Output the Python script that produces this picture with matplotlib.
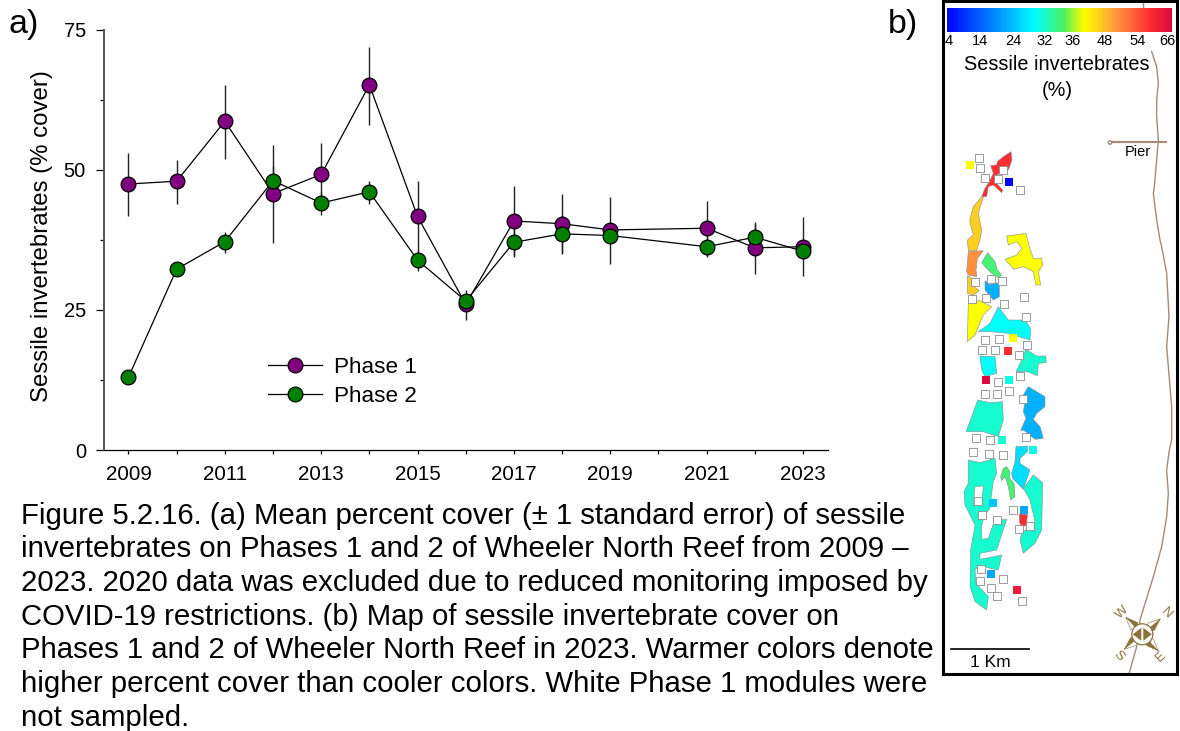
import numpy as np
import matplotlib
matplotlib.use('Agg')
import matplotlib.pyplot as plt
from matplotlib.colors import LinearSegmentedColormap
from matplotlib.patches import Polygon, Circle
from matplotlib.ticker import MultipleLocator, FixedLocator, FixedFormatter

plt.rcParams['font.family'] = ['Liberation Sans', 'DejaVu Sans']

# panel a
years = [2009, 2010, 2011, 2012, 2013, 2014, 2015, 2016, 2017, 2018, 2019, 2021, 2022, 2023]
phase1 = [47.5, 48.0, 58.7, 45.8, 49.2, 65.2, 41.7, 26.0, 40.9, 40.4, 39.3, 39.6, 36.1, 36.3]
phase1_low = [41.7, 44.0, 52.0, 37.0, 43.4, 58.0, 35.4, 23.3, 34.7, 35.1, 33.2, 34.7, 31.5, 31.0]
phase1_high = [53.1, 51.7, 65.2, 54.4, 54.9, 72.0, 48.0, 28.5, 47.1, 45.7, 45.2, 44.5, 40.7, 41.6]
phase2 = [13.0, 32.3, 37.2, 48.1, 44.1, 46.1, 33.9, 26.6, 37.1, 38.6, 38.3, 36.3, 38.0, 35.5]
phase2_low = [12.5, 31.5, 35.1, 45.6, 42.0, 44.0, 32.0, 25.5, 34.5, 35.0, 37.0, 34.5, 35.6, 34.5]
phase2_high = [13.5, 33.0, 39.0, 50.7, 46.0, 48.0, 35.8, 27.7, 39.7, 42.0, 39.5, 38.0, 40.4, 36.5]
year_ticks = list(range(2009, 2024))
year_labels = [str(y) if y % 2 == 1 else '' for y in year_ticks]

caption = [
    'Figure 5.2.16. (a) Mean percent cover (± 1 standard error) of sessile',
    'invertebrates on Phases 1 and 2 of Wheeler North Reef from 2009 –',
    '2023. 2020 data was excluded due to reduced monitoring imposed by',
    'COVID-19 restrictions. (b) Map of sessile invertebrate cover on',
    'Phases 1 and 2 of Wheeler North Reef in 2023. Warmer colors denote',
    'higher percent cover than cooler colors. White Phase 1 modules were',
    'not sampled.',
]

# panel b colour scale
scale_labels = [4, 14, 24, 32, 36, 48, 54, 66]
scale_stops = [(0.0, '#0000ff'), (0.39, '#00ffff'), (0.52, '#50f060'), (0.61, '#ffff00'),
               (0.75, '#ff9a40'), (0.90, '#ff3030'), (1.0, '#dc0a3c')]

# panel b reefs: (percent cover, outline), outlines in crop pixels (x, y)
reefs_top = [
    (58, [(213, 455), (190, 470), (172, 485), (170, 495), (152, 497), (160, 520), (148, 545),
          (135, 565), (125, 590), (140, 590), (145, 560), (160, 555), (185, 578), (188, 570),
          (170, 550), (165, 530), (185, 515), (205, 510), (216, 480)]),
]
reefs_mid = [
    (45, [(125, -100), (130, -98), (115, -50), (125, 0), (120, 30), (110, 62), (85, 62), (82, 30),
          (100, 15), (90, -20), (90, -35), (100, -70)]),
    (39, [(200, 18), (258, 10), (268, 50), (280, 85), (305, 85), (308, 105), (295, 125), (302, 165),
          (288, 165), (280, 125), (250, 110), (222, 118), (195, 88), (230, 75), (245, 55), (230, 35),
          (205, 45)]),
    (50, [(85, 65), (130, 62), (112, 85), (108, 120), (110, 140), (85, 135), (80, 125)]),
    (34, [(143, 68), (165, 95), (172, 120), (184, 135), (175, 143), (155, 130), (135, 110), (125, 98)]),
    (45, [(82, 137), (95, 145), (95, 165), (118, 182), (100, 195), (82, 190)]),
    (23, [(135, 152), (150, 165), (165, 155), (178, 165), (178, 200), (160, 210), (135, 180)]),
    (39, [(85, 215), (120, 212), (155, 230), (130, 255), (105, 315), (82, 335)]),
    (30, [(175, 230), (190, 250), (205, 270), (255, 270), (272, 295), (270, 330), (235, 320),
          (205, 310), (150, 305), (115, 305), (150, 280), (165, 250)]),
    (30, [(120, 378), (165, 380), (170, 430), (135, 440), (125, 420)]),
    (32, [(258, 358), (290, 378), (318, 378), (318, 398), (295, 400), (292, 437), (262, 425),
          (228, 425), (245, 390)]),
    (23, [(265, 470), (315, 500), (315, 530), (290, 550), (280, 568), (300, 590), (310, 625),
          (285, 628), (250, 600), (242, 602), (258, 565), (250, 545), (255, 515), (250, 495)]),
    (32, [(113, 510), (150, 518), (187, 515), (190, 570), (175, 620), (130, 605), (78, 605), (95, 560)]),
]
reefs_low = [
    (27, [(228, -10), (262, -12), (262, 5), (240, 25), (240, 40), (270, 60), (250, 118), (218, 85),
          (215, 70), (225, 35)]),
    (32, [(85, 30), (120, 38), (165, 25), (170, 70), (160, 95), (155, 130), (150, 175), (135, 195),
          (125, 225), (125, 268), (145, 265), (160, 222), (175, 210), (200, 208), (170, 300),
          (120, 310), (120, 328), (185, 315), (175, 360), (150, 355), (120, 345), (105, 360), (108, 400),
          (145, 440), (140, 480), (105, 455), (90, 410), (92, 300), (105, 225), (75, 165), (72, 125),
          (85, 100)]),
    (34, [(200, 50), (210, 65), (208, 85), (222, 100), (225, 140), (212, 150), (205, 110), (195, 80),
          (185, 92), (182, 80), (190, 55)]),
    (32, [(280, 75), (308, 98), (305, 240), (285, 280), (250, 310), (240, 270), (245, 250), (285, 215),
          (270, 150), (250, 115)]),
    (58, [(238, 192), (262, 193), (260, 225), (245, 232), (238, 215)]),
]
reef_hole = [(105, 110), (130, 108), (125, 165), (100, 165)]

# single modules, crop pixels
white_top = [(118, 473), (121, 504), (136, 533), (174, 538), (190, 510), (241, 571)]
white_mid = [(106, 157), (152, 148), (186, 154), (97, 206), (137, 205), (193, 223), (253, 201),
             (257, 261), (135, 329), (178, 327), (260, 344), (127, 361), (164, 361), (237, 374),
             (240, 438), (174, 455), (135, 493), (171, 491), (207, 484), (250, 506), (108, 624),
             (149, 630), (259, 621), (100, 665), (148, 672), (190, 675)]
white_low = [(113, 152), (126, 195), (218, 181), (172, 210), (237, 238), (271, 228), (122, 356),
             (120, 392), (190, 386), (152, 413), (172, 438), (245, 454)]
colored_top = [(39, 90, 495), (4, 206, 545)]
colored_mid = [(39, 219, 323), (58, 204, 364), (66, 137, 451), (31, 207, 451), (32, 187, 631), (31, 278, 659)]
colored_low = [(25, 160, 160), (22, 253, 181), (22, 152, 373), (62, 232, 420)]

# coast, crop pixels
coast_stub = [(610, 0), (610, 20)]
coast_top = [(635, 155), (650, 200), (655, 250), (650, 300), (650, 350), (655, 420), (650, 480),
             (643, 560), (640, 580), (650, 660), (660, 720)]
coast_mid = [(665, 50), (680, 130), (687, 260), (680, 350), (695, 530), (695, 630)]
coast_low = [(688, 0), (680, 60), (685, 130), (680, 200), (665, 290), (640, 380), (600, 510),
             (590, 590), (568, 668)]

TOP, MID, LOW = 0, 230, 450
BROWN = '#a58a7c'
COMPASS = '#8a7238'


def crop_xy(pts, y0):
    arr = np.array(pts, dtype=float)
    return np.column_stack([940 + arr[:, 0] / 3, y0 + arr[:, 1] / 3])


cmap = LinearSegmentedColormap.from_list('cover', scale_stops)


def cover_color(value):
    return cmap(np.interp(value, scale_labels, np.linspace(0, 1, len(scale_labels))))


fig = plt.figure(figsize=(11.8, 7.31), dpi=100)
W, H = 1180.0, 731.0

# ---- panel a
ax = fig.add_axes([104 / W, 1 - 450 / H, 724 / W, 420 / H])
ax.set_xlim(2009 - 24.5 / 48.25, 2023 + 25 / 48.25)
ax.set_ylim(0, 75)

for y, low, high in ((phase1, phase1_low, phase1_high), (phase2, phase2_low, phase2_high)):
    y = np.array(y)
    ax.errorbar(years, y, yerr=[y - np.array(low), np.array(high) - y], fmt='none',
                ecolor='#222222', elinewidth=1.0, capsize=0, zorder=2)
ax.plot(years, phase1, '-', color='black', lw=0.9, zorder=3, marker='o', ms=10.6, mfc='#800080',
        mec='black', mew=0.9, label='Phase 1', clip_on=False)
ax.plot(years, phase2, '-', color='black', lw=0.9, zorder=4, marker='o', ms=10.6, mfc='#008000',
        mec='black', mew=0.9, label='Phase 2', clip_on=False)

ax.spines['top'].set_visible(False)
ax.spines['right'].set_visible(False)
ax.spines['left'].set_color('#555555')
ax.spines['left'].set_linewidth(1.4)
ax.spines['bottom'].set_linewidth(0.9)

ax.yaxis.set_major_locator(MultipleLocator(25))
ax.yaxis.set_minor_locator(MultipleLocator(12.5))
ax.xaxis.set_major_locator(FixedLocator(year_ticks))
ax.xaxis.set_major_formatter(FixedFormatter(year_labels))
ax.tick_params(axis='y', which='major', length=6, width=0.9, labelsize=14.5, pad=7)
ax.tick_params(axis='y', which='minor', length=3, width=0.9)
ax.tick_params(axis='x', which='major', length=3, width=0.9, labelsize=14.8, pad=8)
ax.set_ylabel('Sessile invertebrates (% cover)', fontsize=17.3)
ax.yaxis.set_label_coords(53 / W, 1 - 236 / H, transform=fig.transFigure)

ax.legend(loc='upper left', bbox_to_anchor=(268 / W, 1 - 357 / H), bbox_transform=fig.transFigure,
          frameon=False, fontsize=16.2, handlelength=2.42, handletextpad=0.5, labelspacing=0.36,
          borderpad=0, borderaxespad=0, numpoints=1)

fig.text(9 / W, 1 - 33 / H, 'a)', fontsize=24.5, va='baseline')
fig.text(888 / W, 1 - 33 / H, 'b)', fontsize=24.5, va='baseline')

for i, line in enumerate(caption):
    fig.text(21 / W, 1 - (523.5 + i * 33.67) / H, line, fontsize=21.2, va='baseline', color='black')

# ---- panel b, axes works in picture pixels
m = fig.add_axes([943 / W, 1 - 674 / H, 234 / W, 673 / H])
m.set_xticks([])
m.set_yticks([])
for s in m.spines.values():
    s.set_linewidth(2.2)

gradient = np.linspace(0, 1, 256).reshape(1, -1)
m.imshow(gradient, cmap=cmap, aspect='auto', extent=(947, 1172, 32, 8), zorder=2)
m.set_xlim(943, 1177)
m.set_ylim(674, 1)

label_x = [949, 980, 1013, 1045, 1073, 1105, 1138, 1167]
for x, lab in zip(label_x, scale_labels):
    m.text(x, 41, str(lab), ha='center', va='center', fontsize=10.5)
m.text(1057, 65, 'Sessile invertebrates', ha='center', va='center', fontsize=14.3)
m.text(1057, 90, '(%)', ha='center', va='center', fontsize=14.3)

stub = crop_xy(coast_stub, TOP)
m.plot(stub[:, 0], stub[:, 1], color=BROWN, lw=1.0, zorder=1)
coast = np.vstack([crop_xy(coast_top, TOP), crop_xy(coast_mid, MID), crop_xy(coast_low, LOW)])
m.plot(coast[:, 0], coast[:, 1], color=BROWN, lw=1.0, zorder=1)

# pier
m.plot([1110, 1166], [142, 142], color=BROWN, lw=1.6, zorder=1)
m.add_patch(Circle((1110, 142.5), 1.7, fc='white', ec=BROWN, lw=1.0, zorder=2))
m.text(1138, 152, 'Pier', ha='center', va='center', fontsize=10.5)

for group, y0 in ((reefs_top, TOP), (reefs_mid, MID), (reefs_low, LOW)):
    for cover, outline in group:
        m.add_patch(Polygon(crop_xy(outline, y0), closed=True, fc=cover_color(cover),
                            ec='#8a8a8a', lw=0.4, zorder=3))
m.add_patch(Polygon(crop_xy(reef_hole, LOW), closed=True, fc='white', ec='#8a8a8a', lw=0.4, zorder=3.5))

for pts, y0 in ((white_top, TOP), (white_mid, MID), (white_low, LOW)):
    xy = crop_xy(pts, y0)
    m.scatter(xy[:, 0], xy[:, 1], marker='s', s=27, fc='white', ec='#8c8c8c', lw=0.6, zorder=4)
for pts, y0 in ((colored_top, TOP), (colored_mid, MID), (colored_low, LOW)):
    for cover, x, y in pts:
        xy = crop_xy([(x, y)], y0)
        m.scatter(xy[:, 0], xy[:, 1], marker='s', s=26, color=cover_color(cover), lw=0, zorder=4)

# scale bar
m.plot([951, 1029], [649, 649], color='black', lw=1.2, zorder=3)
m.text(990.5, 662.5, '1 Km', ha='center', va='center', fontsize=12.5)

# compass
cx, cy = 1142.3, 634.3
tips = [(18, -15.5), (-16.5, -17), (-18, 15), (16, 16.5)]
for tx, ty in tips:
    nx, ny = -ty * 0.2, tx * 0.2
    m.add_patch(Polygon([(cx, cy), (cx + 0.5 * tx + nx, cy + 0.5 * ty + ny), (cx + tx, cy + ty)],
                        fc=COMPASS, ec=COMPASS, lw=0.4, zorder=5))
    m.add_patch(Polygon([(cx, cy), (cx + 0.5 * tx - nx, cy + 0.5 * ty - ny), (cx + tx, cy + ty)],
                        fc='white', ec=COMPASS, lw=0.4, zorder=5))
m.add_patch(Circle((cx, cy), 10.5, fc='white', ec=COMPASS, lw=0.9, zorder=6))
m.add_patch(Polygon([(cx - 9.5, cy), (cx - 1, cy - 6.5), (cx - 1, cy + 6.5)], fc=COMPASS, ec='none', zorder=7))
m.add_patch(Polygon([(cx + 9.5, cy), (cx + 1, cy - 6.5), (cx + 1, cy + 6.5)], fc=COMPASS, ec='none', zorder=7))
for lab, x, y, rot in (('N', 1166, 613.5, -45), ('W', 1122, 612, 45), ('S', 1119, 656, -45), ('E', 1161, 656.5, 45)):
    m.text(x, y, lab, ha='center', va='center', fontsize=9.5, color=COMPASS, rotation=rot, zorder=7)

fig.savefig('out.png', dpi=100)
plt.close('all')
